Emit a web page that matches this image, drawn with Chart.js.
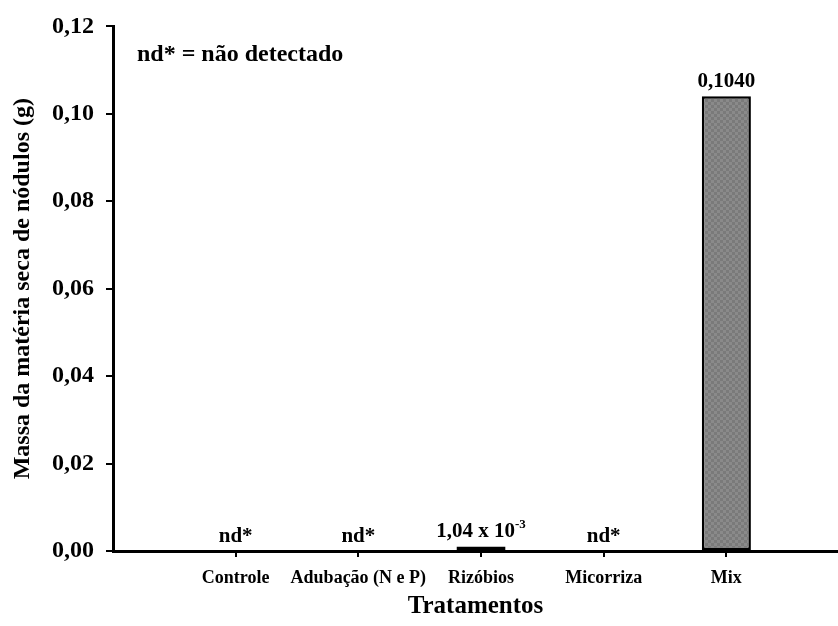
<!DOCTYPE html>
<html><head><meta charset="utf-8">
<script src="https://cdn.jsdelivr.net/npm/chart.js@4"></script>
<style>html,body{margin:0;padding:0;background:#fff;}#wrap{width:838px;height:626px;position:relative;}</style>
</head><body><div id="wrap"><canvas id="c"></canvas></div>
<script>
const categories = ['Controle', 'Adubação (N e P)', 'Rizóbios', 'Micorriza', 'Mix'];
const values = [null, null, 0.00104, null, 0.1040];
const valueLabels = ['nd*', 'nd*', '1,04 x 10', 'nd*', '0,1040'];
const valueSupers = ['', '', '-3', '', ''];
const yTicks = [0, 0.02, 0.04, 0.06, 0.08, 0.10, 0.12];
const noteText = 'nd* = não detectado';
const yTitle = 'Massa da matéria seca de nódulos (g)';
const xTitle = 'Tratamentos';

const FONT = "'Liberation Serif', 'Times New Roman', serif";

function makePattern() {
  const p = document.createElement('canvas');
  p.width = 6; p.height = 6;
  const g = p.getContext('2d');
  g.fillStyle = '#8a8a8a'; g.fillRect(0,0,6,6);
  g.fillStyle = '#7a7a7a'; g.fillRect(0,0,3,3); g.fillRect(3,3,3,3);
  return g.createPattern(p, 'repeat');
}

const labelPlugin = {
  id: 'labels',
  afterDatasetsDraw(chart) {
    const ctx = chart.ctx;
    const xs = chart.scales.x, ys = chart.scales.y;
    ctx.save();
    ctx.fillStyle = '#000';
    ctx.textBaseline = 'alphabetic';
    categories.forEach((c, i) => {
      const x = xs.getPixelForValue(i + 1);
      const y = ys.getPixelForValue(values[i] == null ? 0 : values[i]) - 9;
      ctx.font = 'bold 21px ' + FONT;
      const main = valueLabels[i];
      const sup = valueSupers[i];
      const wMain = ctx.measureText(main).width;
      ctx.font = 'bold 13px ' + FONT;
      const wSup = sup ? ctx.measureText(sup).width : 0;
      const start = x - (wMain + wSup) / 2;
      ctx.font = 'bold 21px ' + FONT;
      ctx.textAlign = 'left';
      ctx.fillText(main, start, y);
      if (sup) {
        ctx.font = 'bold 13px ' + FONT;
        ctx.fillText(sup, start + wMain, y - 9);
      }
    });
    ctx.font = 'bold 24px ' + FONT;
    ctx.textAlign = 'left';
    ctx.fillText(noteText, chart.chartArea.left + 24, chart.chartArea.top + 35);
    ctx.restore();
  }
};

new Chart(document.getElementById('c'), {
  type: 'bar',
  data: {
    datasets: [{
      data: values.map((v, i) => ({x: i + 1, y: v})),
      backgroundColor: makePattern(),
      borderColor: '#000',
      borderWidth: 2.5,
      borderSkipped: false,
      categoryPercentage: 1,
      barPercentage: 0.4
    }]
  },
  options: {
    responsive: true,
    maintainAspectRatio: false,
    animation: false,
    devicePixelRatio: 1,
    layout: {padding: {left: 0, right: 0, top: 21, bottom: 0}},
    plugins: {legend: {display: false}, tooltip: {enabled: false}},
    scales: {
      x: {
        type: 'linear',
        offset: false,
        min: 0, max: 5.91,
        afterBuildTicks: s => { s.ticks = categories.map((c, i) => ({value: i + 1})); },
        afterFit: s => { s.height = 75; },
        grid: {display: true, offset: false, drawOnChartArea: false, drawTicks: true, tickLength: 6, color: '#000', lineWidth: 2},
        border: {display: true, color: '#000', width: 3},
        ticks: {
          autoSkip: false, maxRotation: 0, padding: 11,
          color: '#000', font: {family: FONT, size: 18, weight: 'bold'},
          callback: v => categories[v - 1] || ''
        },
        title: {display: true, text: xTitle, color: '#000', font: {family: FONT, size: 25, weight: 'bold'}, padding: 4}
      },
      y: {
        min: 0, max: 0.12,
        afterBuildTicks: s => { s.ticks = yTicks.map(v => ({value: v})); },
        afterFit: s => { s.width = 113; },
        grid: {display: true, drawOnChartArea: false, drawTicks: true, tickLength: 7, color: '#000', lineWidth: 2},
        border: {display: true, color: '#000', width: 3},
        ticks: {
          padding: 12, color: '#000', font: {family: FONT, size: 24, weight: 'bold'},
          callback: v => v.toFixed(2).replace('.', ',')
        },
        title: {display: true, text: yTitle, color: '#000', font: {family: FONT, size: 24, weight: 'bold'}, padding: 8}
      }
    }
  },
  plugins: [labelPlugin]
});
</script>
</body></html>
